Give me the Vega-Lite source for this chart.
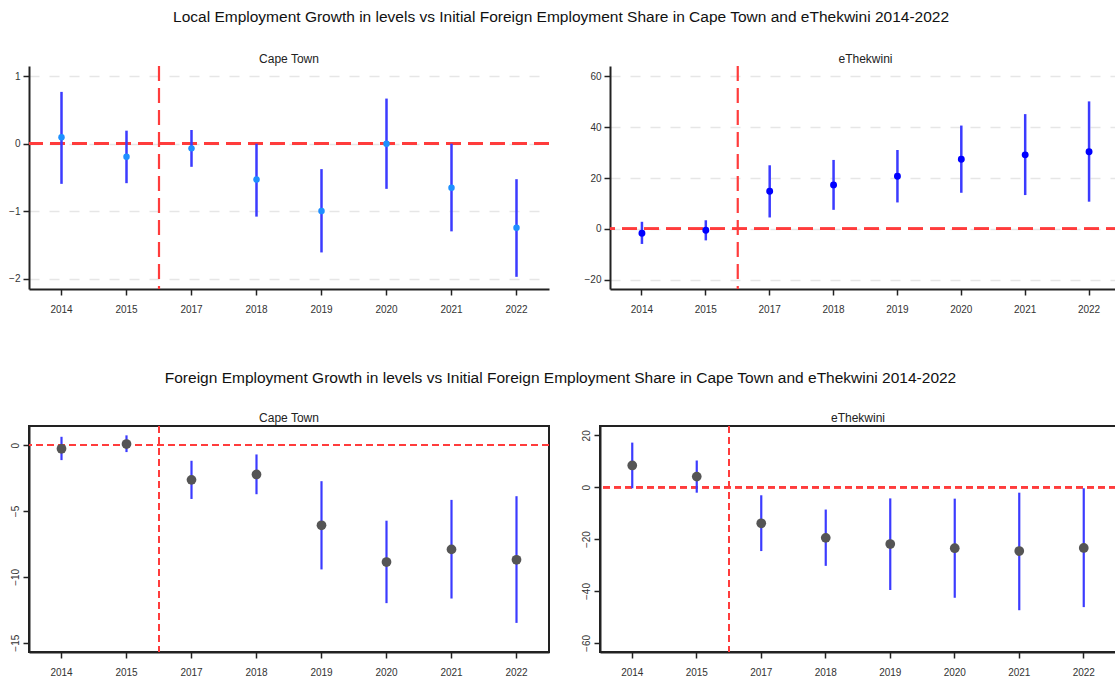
{
  "$schema": "https://vega.github.io/schema/vega-lite/v6.json",
  "padding": {"left": 0, "top": 10, "right": 0, "bottom": 0},
  "background": "white",
  "spacing": 56,
  "config": {
    "font": "Liberation Sans",
    "title": {"font": "Liberation Sans", "fontWeight": "normal", "color": "#111111"},
    "axis": {"labelFont": "Liberation Sans", "labelFontSize": 10, "labelColor": "#333333", "title": null, "domainColor": "#222222", "domainWidth": 2, "tickColor": "#222222", "tickWidth": 1.5, "tickSize": 6, "labelPadding": 3, "format": "d"},
    "concat": {"spacing": 33}
  },
  "datasets": {
    "localCT": [
      {"year": "2014", "est": 0.094, "lo": -0.594, "hi": 0.767},
      {"year": "2015", "est": -0.193, "lo": -0.584, "hi": 0.193},
      {"year": "2017", "est": -0.069, "lo": -0.342, "hi": 0.203},
      {"year": "2018", "est": -0.53, "lo": -1.079, "hi": 0.0},
      {"year": "2019", "est": -0.995, "lo": -1.609, "hi": -0.376},
      {"year": "2020", "est": 0.0, "lo": -0.668, "hi": 0.668},
      {"year": "2021", "est": -0.653, "lo": -1.297, "hi": 0.0},
      {"year": "2022", "est": -1.243, "lo": -1.97, "hi": -0.525}
    ],
    "localET": [
      {"year": "2014", "est": -1.7, "lo": -5.9, "hi": 2.8},
      {"year": "2015", "est": -0.5, "lo": -4.5, "hi": 3.4},
      {"year": "2017", "est": 14.8, "lo": 4.5, "hi": 25.0},
      {"year": "2018", "est": 17.3, "lo": 7.5, "hi": 27.1},
      {"year": "2019", "est": 20.7, "lo": 10.4, "hi": 31.0},
      {"year": "2020", "est": 27.4, "lo": 14.2, "hi": 40.6},
      {"year": "2021", "est": 29.1, "lo": 13.3, "hi": 45.1},
      {"year": "2022", "est": 30.3, "lo": 10.7, "hi": 50.1}
    ],
    "foreignCT": [
      {"year": "2014", "est": -0.28, "lo": -1.14, "hi": 0.63},
      {"year": "2015", "est": 0.08, "lo": -0.53, "hi": 0.74},
      {"year": "2017", "est": -2.64, "lo": -4.09, "hi": -1.19},
      {"year": "2018", "est": -2.23, "lo": -3.73, "hi": -0.71},
      {"year": "2019", "est": -6.09, "lo": -9.44, "hi": -2.74},
      {"year": "2020", "est": -8.88, "lo": -12.0, "hi": -5.74},
      {"year": "2021", "est": -7.92, "lo": -11.65, "hi": -4.16},
      {"year": "2022", "est": -8.71, "lo": -13.5, "hi": -3.88}
    ],
    "foreignET": [
      {"year": "2014", "est": 8.4, "lo": -0.4, "hi": 17.2},
      {"year": "2015", "est": 4.1, "lo": -2.1, "hi": 10.3},
      {"year": "2017", "est": -13.9, "lo": -24.6, "hi": -3.1},
      {"year": "2018", "est": -19.5, "lo": -30.3, "hi": -8.6},
      {"year": "2019", "est": -21.9, "lo": -39.6, "hi": -4.3},
      {"year": "2020", "est": -23.5, "lo": -42.6, "hi": -4.4},
      {"year": "2021", "est": -24.6, "lo": -47.4, "hi": -2.1},
      {"year": "2022", "est": -23.4, "lo": -46.2, "hi": -0.4}
    ]
  },
  "vconcat": [
    {
      "title": {"text": "Local Employment Growth in levels vs Initial Foreign Employment Share in Cape Town and eThekwini 2014-2022", "fontSize": 15.5, "offset": 27, "anchor": "middle"},
      "hconcat": [
        {
          "width": 520, "height": 223,
          "title": {"text": "Cape Town", "fontSize": 12, "offset": -1, "color": "#222222"},
          "view": {"stroke": null},
          "data": {"name": "localCT"},
          "layer": [
            {"mark": {"type": "rule", "color": "#ff3c3c", "strokeDash": [15, 7], "strokeWidth": 2.2}, "encoding": {"y": {"datum": 0, "type": "quantitative", "scale": {"domain": [-2.15, 1.15], "nice": false, "zero": false}, "axis": {"values": [-2, -1, 0, 1], "grid": true, "gridColor": "#e6e6e6", "gridDash": [10, 10], "gridWidth": 1.5, "minExtent": 29, "maxExtent": 29}}}},
            {"transform": [{"filter": "datum.year == '2015'"}], "mark": {"type": "rule", "color": "#ff3c3c", "strokeDash": [15, 7], "strokeWidth": 2.2}, "encoding": {"x": {"field": "year", "type": "ordinal", "bandPosition": 1, "scale": {"type": "band", "domain": ["2014", "2015", "2017", "2018", "2019", "2020", "2021", "2022"], "paddingInner": 0, "paddingOuter": 0}, "axis": {"labelAngle": 0, "grid": false, "labelPadding": 9}}}},
            {"mark": {"type": "rule", "color": "#3b3bff", "strokeWidth": 2.5}, "encoding": {"x": {"field": "year", "type": "ordinal"}, "y": {"field": "lo", "type": "quantitative"}, "y2": {"field": "hi"}}},
            {"mark": {"type": "point", "filled": true, "opacity": 1, "color": "#1e90ff", "size": 42}, "encoding": {"x": {"field": "year", "type": "ordinal"}, "y": {"field": "est", "type": "quantitative"}}}
          ]
        },
        {
          "width": 511, "height": 223,
          "title": {"text": "eThekwini", "fontSize": 12, "offset": -1, "color": "#222222"},
          "view": {"stroke": null},
          "data": {"name": "localET"},
          "layer": [
            {"mark": {"type": "rule", "color": "#ff3c3c", "strokeDash": [15, 7], "strokeWidth": 2.2}, "encoding": {"y": {"datum": 0, "type": "quantitative", "scale": {"domain": [-23.6, 64], "nice": false, "zero": false}, "axis": {"values": [-20, 0, 20, 40, 60], "grid": true, "gridColor": "#e6e6e6", "gridDash": [10, 10], "gridWidth": 1.5, "minExtent": 22, "maxExtent": 22}}}},
            {"transform": [{"filter": "datum.year == '2015'"}], "mark": {"type": "rule", "color": "#ff3c3c", "strokeDash": [15, 7], "strokeWidth": 2.2}, "encoding": {"x": {"field": "year", "type": "ordinal", "bandPosition": 1, "scale": {"type": "band", "domain": ["2014", "2015", "2017", "2018", "2019", "2020", "2021", "2022"], "paddingInner": 0, "paddingOuter": 0}, "axis": {"labelAngle": 0, "grid": false, "labelPadding": 9}}}},
            {"mark": {"type": "rule", "color": "#3b3bff", "strokeWidth": 2.5}, "encoding": {"x": {"field": "year", "type": "ordinal"}, "y": {"field": "lo", "type": "quantitative"}, "y2": {"field": "hi"}}},
            {"mark": {"type": "point", "filled": true, "opacity": 1, "color": "#0000ff", "size": 48}, "encoding": {"x": {"field": "year", "type": "ordinal"}, "y": {"field": "est", "type": "quantitative"}}}
          ]
        }
      ]
    },
    {
      "title": {"text": "Foreign Employment Growth in levels vs Initial Foreign Employment Share in Cape Town and eThekwini 2014-2022", "fontSize": 15.5, "offset": 25, "anchor": "middle"},
      "spacing": 27,
      "hconcat": [
        {
          "width": 520, "height": 226,
          "title": {"text": "Cape Town", "fontSize": 12, "offset": 0, "color": "#222222"},
          "view": {"stroke": "#222222", "strokeWidth": 2},
          "data": {"name": "foreignCT"},
          "layer": [
            {"mark": {"type": "rule", "color": "#ff3c3c", "strokeDash": [7, 4], "strokeWidth": 2}, "encoding": {"y": {"datum": 0, "type": "quantitative", "scale": {"domain": [-15.71, 1.45], "nice": false, "zero": false}, "axis": {"values": [-15, -10, -5, 0], "grid": false, "labelAngle": -90, "labelAlign": "center", "labelBaseline": "bottom", "minExtent": 25, "maxExtent": 25}}}},
            {"transform": [{"filter": "datum.year == '2015'"}], "mark": {"type": "rule", "color": "#ff3c3c", "strokeDash": [7, 4], "strokeWidth": 2}, "encoding": {"x": {"field": "year", "type": "ordinal", "bandPosition": 1, "scale": {"type": "band", "domain": ["2014", "2015", "2017", "2018", "2019", "2020", "2021", "2022"], "paddingInner": 0, "paddingOuter": 0}, "axis": {"labelAngle": 0, "grid": false, "labelPadding": 9}}}},
            {"mark": {"type": "rule", "color": "#3b3bff", "strokeWidth": 2.2}, "encoding": {"x": {"field": "year", "type": "ordinal"}, "y": {"field": "lo", "type": "quantitative"}, "y2": {"field": "hi"}}},
            {"mark": {"type": "point", "filled": true, "opacity": 1, "color": "#555555", "size": 95}, "encoding": {"x": {"field": "year", "type": "ordinal"}, "y": {"field": "est", "type": "quantitative"}}}
          ]
        },
        {
          "width": 516, "height": 226,
          "title": {"text": "eThekwini", "fontSize": 12, "offset": 0, "color": "#222222"},
          "view": {"stroke": "#222222", "strokeWidth": 2},
          "data": {"name": "foreignET"},
          "layer": [
            {"mark": {"type": "rule", "color": "#ff3c3c", "strokeDash": [7, 4], "strokeWidth": 2}, "encoding": {"y": {"datum": 0, "type": "quantitative", "scale": {"domain": [-63.5, 23.6], "nice": false, "zero": false}, "axis": {"values": [-60, -40, -20, 0, 20], "grid": false, "labelAngle": -90, "labelAlign": "center", "labelBaseline": "bottom", "minExtent": 21, "maxExtent": 21}}}},
            {"transform": [{"filter": "datum.year == '2015'"}], "mark": {"type": "rule", "color": "#ff3c3c", "strokeDash": [7, 4], "strokeWidth": 2}, "encoding": {"x": {"field": "year", "type": "ordinal", "bandPosition": 1, "scale": {"type": "band", "domain": ["2014", "2015", "2017", "2018", "2019", "2020", "2021", "2022"], "paddingInner": 0, "paddingOuter": 0}, "axis": {"labelAngle": 0, "grid": false, "labelPadding": 9}}}},
            {"mark": {"type": "rule", "color": "#3b3bff", "strokeWidth": 2.2}, "encoding": {"x": {"field": "year", "type": "ordinal"}, "y": {"field": "lo", "type": "quantitative"}, "y2": {"field": "hi"}}},
            {"mark": {"type": "point", "filled": true, "opacity": 1, "color": "#555555", "size": 95}, "encoding": {"x": {"field": "year", "type": "ordinal"}, "y": {"field": "est", "type": "quantitative"}}}
          ]
        }
      ]
    }
  ]
}
